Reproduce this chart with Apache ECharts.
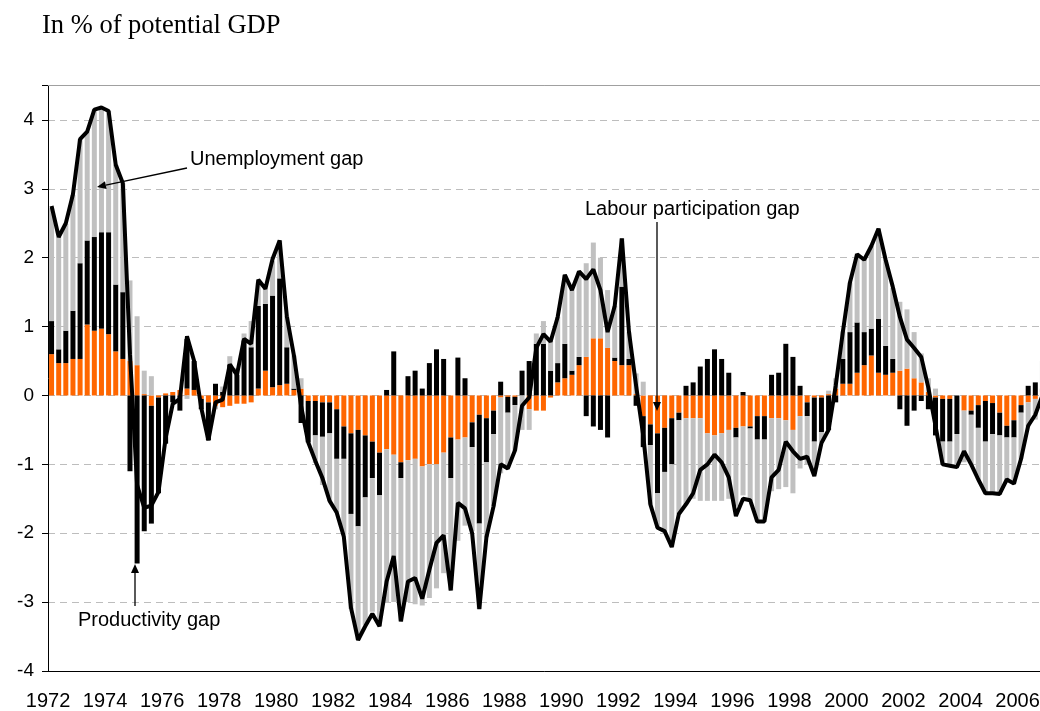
<!DOCTYPE html>
<html>
<head>
<meta charset="utf-8">
<script src="https://cdn.jsdelivr.net/npm/echarts@6/dist/echarts.min.js"></script>
<style>
  html, body { margin: 0; padding: 0; background: #fff; }
  #chart { width: 1040px; height: 711px; }
</style>
</head>
<body>
<div id="chart"></div>
<script>
// quarters 1972Q1 .. 2006Q4 (last one is cut by the frame)
const startYear = 1972;
const nQuarters = 140;
const quarters = [];
for (let i = 0; i < nQuarters; i++) {
  quarters.push((startYear + Math.floor(i / 4)) + 'Q' + (i % 4 + 1));
}

// labour participation gap (orange)
const labourGap = [
  0.60, 0.47, 0.47, 0.53, 0.53, 1.03, 0.94, 0.97, 0.89, 0.64, 0.53, 0.50,
  0.44, 0.02, -0.15, -0.03, 0.03, 0.05, 0.08, 0.10, 0.08, -0.05, -0.10, -0.15,
  -0.17, -0.15, -0.12, -0.12, -0.10, 0.10, 0.36, 0.12, 0.15, 0.17, 0.08, 0.10,
  -0.08, -0.08, -0.10, -0.10, -0.20, -0.45, -0.55, -0.50, -0.58, -0.67, -0.83, -0.78,
  -0.86, -0.97, -0.94, -0.92, -1.03, -1.00, -1.00, -0.83, -0.61, -0.64, -0.61, -0.39,
  -0.28, -0.33, -0.22, -0.03, -0.02, -0.02, 0.00, -0.20, -0.22, -0.22, -0.03, 0.19,
  0.25, 0.30, 0.44, 0.56, 0.83, 0.83, 0.69, 0.50, 0.44, 0.44, 0.02, -0.30,
  -0.42, -0.55, -0.47, -0.33, -0.25, -0.33, -0.33, -0.33, -0.55, -0.58, -0.55, -0.50,
  -0.47, -0.45, -0.45, -0.30, -0.30, -0.33, -0.33, -0.36, -0.50, -0.30, -0.10, -0.03,
  -0.03, 0.02, 0.10, 0.17, 0.17, 0.33, 0.44, 0.58, 0.33, 0.30, 0.33, 0.36,
  0.39, 0.25, 0.19, 0.05, -0.03, -0.05, -0.05, 0.00, -0.22, -0.22, -0.14, -0.08,
  -0.11, -0.25, -0.44, -0.36, -0.14, -0.10, -0.05, 0.05
];

// productivity gap (black)
const productivityGap = [
  0.48, 0.20, 0.47, 0.70, 1.39, 1.22, 1.36, 1.40, 1.48, 0.97, 0.97, -1.10,
  -2.44, -1.97, -1.71, -1.39, -0.70, -0.10, -0.22, 0.72, 0.42, -0.15, -0.55, 0.17,
  0.05, 0.45, 0.30, 0.80, 0.70, 1.20, 0.97, 1.33, 1.55, 0.53, 0.02, -0.40,
  -0.60, -0.50, -0.50, -0.45, -0.72, -0.47, -1.17, -1.40, -0.90, -0.53, -0.62, 0.08,
  0.64, -0.23, 0.28, 0.36, 0.10, 0.47, 0.67, 0.53, -0.59, 0.55, 0.25, -0.36,
  -1.58, -0.64, -0.34, 0.20, -0.23, -0.12, 0.36, 0.50, 0.75, 0.75, 0.36, 0.28,
  0.50, 0.06, 0.12, -0.30, -0.45, -0.50, -0.61, 0.05, 1.14, 0.09, -0.15, -0.45,
  -0.30, -0.87, -0.64, -0.67, -0.11, 0.14, 0.19, 0.42, 0.53, 0.67, 0.53, 0.33,
  -0.14, 0.05, -0.03, -0.34, -0.34, 0.30, 0.33, 0.75, 0.56, 0.14, -0.20, -0.64,
  -0.50, -0.50, -0.10, 0.36, 0.75, 0.73, 0.48, 0.39, 0.78, 0.42, 0.20, -0.20,
  -0.44, -0.22, -0.08, -0.20, -0.55, -0.62, -0.62, -0.56, 0.00, -0.06, -0.33, -0.59,
  -0.45, -0.33, -0.17, -0.25, -0.11, 0.14, 0.19, 0.05
];

// unemployment gap (grey)
const unemploymentGap = [
  1.64, 1.63, 1.55, 1.68, 1.80, 1.58, 1.85, 1.81, 1.76, 1.74, 1.58, 1.17,
  0.71, 0.34, 0.28, 0.00, 0.00, 0.00, 0.00, -0.05, 0.00, 0.00, 0.00, -0.05,
  0.08, 0.12, 0.10, 0.10, 0.38, 0.35, 0.22, 0.50, 0.55, 0.45, 0.48, 0.15,
  0.00, -0.40, -0.70, -0.98, -0.78, -1.10, -1.38, -1.65, -1.85, -1.94, -1.90, -2.22,
  -2.14, -2.08, -2.06, -2.11, -2.02, -1.94, -1.80, -1.75, -1.63, -1.47, -1.28, -1.22,
  -1.24, -1.09, -1.05, -1.10, -0.80, -0.66, -0.50, -0.30, 0.15, 0.33, 0.45, 0.67,
  1.00, 1.17, 1.24, 1.36, 1.39, 1.17, 0.84, 0.75, 0.70, 0.39, 0.30, 0.20,
  -0.86, -0.50, -0.86, -1.20, -1.36, -1.25, -1.17, -1.20, -0.98, -0.95, -0.98, -1.00,
  -1.00, -1.00, -1.05, -1.19, -1.16, -1.06, -1.03, -0.97, -0.92, -0.76, -0.70, -0.47,
  -0.15, 0.05, 0.15, 0.40, 0.72, 1.00, 1.05, 1.20, 1.31, 1.25, 1.03, 1.00,
  0.86, 0.67, 0.42, 0.20, 0.10, -0.33, -0.33, -0.44, -0.75, -0.72, -0.75, -0.75,
  -0.86, -0.86, -0.61, -0.67, -0.67, -0.35, -0.30, 0.40
];

// output gap (line)
const outputGap = [
  2.75, 2.30, 2.50, 2.92, 3.72, 3.83, 4.15, 4.18, 4.13, 3.35, 3.08, 0.60,
  -1.30, -1.63, -1.60, -1.40, -0.62, -0.12, -0.05, 0.86, 0.50, -0.18, -0.65, -0.10,
  -0.06, 0.45, 0.30, 0.82, 0.75, 1.68, 1.55, 1.98, 2.25, 1.15, 0.58, -0.15,
  -0.68, -0.95, -1.20, -1.53, -1.70, -2.05, -3.08, -3.55, -3.35, -3.17, -3.35, -2.70,
  -2.33, -3.28, -2.70, -2.65, -2.95, -2.53, -2.14, -2.03, -2.83, -1.56, -1.64, -2.00,
  -3.10, -2.06, -1.61, -1.00, -1.06, -0.80, -0.15, -0.03, 0.69, 0.89, 0.78, 1.14,
  1.75, 1.53, 1.80, 1.69, 1.83, 1.53, 0.92, 1.30, 2.28, 0.92, 0.14, -0.58,
  -1.58, -1.92, -1.97, -2.20, -1.72, -1.58, -1.42, -1.08, -1.00, -0.86, -0.97, -1.19,
  -1.75, -1.50, -1.52, -1.83, -1.83, -1.19, -1.08, -0.67, -0.81, -0.92, -0.89, -1.17,
  -0.69, -0.50, 0.14, 0.92, 1.64, 2.05, 1.97, 2.17, 2.42, 1.97, 1.58, 1.14,
  0.81, 0.69, 0.56, 0.11, -0.44, -1.00, -1.02, -1.04, -0.81, -1.00, -1.22, -1.42,
  -1.42, -1.43, -1.22, -1.28, -0.92, -0.44, -0.28, 0.00
];

const yTicks = [-4, -3, -2, -1, 0, 1, 2, 3, 4];

const font = 'Liberation Sans, Arial, sans-serif';

let myChart = echarts.init(document.getElementById('chart'));

// small helper for annotation arrows
function arrow(x1, y1, x2, y2) {
  const a = Math.atan2(y2 - y1, x2 - x1);
  const len = 9, w = 4;
  const bx = x2 - len * Math.cos(a), by = y2 - len * Math.sin(a);
  return [
    { type: 'line', shape: { x1: x1, y1: y1, x2: bx, y2: by },
      style: { stroke: '#000', lineWidth: 1.3 }, z: 100 },
    { type: 'polygon', z: 100,
      shape: { points: [[x2, y2],
        [bx + w * Math.sin(a), by - w * Math.cos(a)],
        [bx - w * Math.sin(a), by + w * Math.cos(a)]] },
      style: { fill: '#000' } }
  ];
}

function label(text, x, y) {
  return { type: 'text', left: x, top: y, z: 100,
    style: { text: text, font: '20px ' + font, fill: '#000' } };
}

const barBase = { type: 'bar', stack: 'gap', barWidth: 5, animation: false };

myChart.setOption({
  animation: false,
  title: {
    text: 'In % of potential GDP',
    left: 37, top: 8,
    textStyle: { fontFamily: 'Liberation Serif, Times New Roman, serif', fontSize: 26.5,
      fontWeight: 'normal', color: '#000' }
  },
  // plot runs past the right edge of the picture, like the original
  grid: { left: 48, width: 998, top: 85.5, bottom: 40, outerBoundsMode: 'none' },
  xAxis: [
    {
      type: 'category',
      data: quarters,
      boundaryGap: true,
      axisLine: { onZero: false, lineStyle: { color: '#000', width: 1 } },
      axisTick: { interval: 7, length: 8, lineStyle: { color: '#000' } },
      axisLabel: {
        interval: 7, margin: 20, color: '#000', fontSize: 20, fontFamily: font,
        padding: [0, 7, 0, 0],
        formatter: v => v.slice(0, 4)
      },
      splitLine: { show: false }
    },
    {
      // top frame line of the plot area
      type: 'category',
      data: quarters,
      position: 'top',
      axisLine: { onZero: false, lineStyle: { color: '#a0a0a0', width: 1 } },
      axisTick: { show: false },
      axisLabel: { show: false },
      splitLine: { show: false }
    }
  ],
  yAxis: {
    type: 'value',
    min: -4, max: 4.5, interval: 1,
    axisLine: { show: true, lineStyle: { color: '#000', width: 1 } },
    axisTick: { show: true, length: 6, lineStyle: { color: '#000' } },
    axisLabel: {
      margin: 14, color: '#000', fontSize: 19, fontFamily: font,
      formatter: v => (yTicks.indexOf(v) >= 0 ? String(v) : '')
    },
    splitLine: { lineStyle: { color: '#bdbdbd', type: [7, 5], width: 1 } }
  },
  series: [
    Object.assign({ name: 'Labour participation gap', data: labourGap,
      itemStyle: { color: '#ff6600' } }, barBase),
    Object.assign({ name: 'Productivity gap', data: productivityGap,
      itemStyle: { color: '#000000' } }, barBase),
    Object.assign({ name: 'Unemployment gap', data: unemploymentGap,
      itemStyle: { color: '#c0c0c0' } }, barBase),
    {
      name: 'Output gap', type: 'line', data: outputGap,
      symbol: 'none', z: 10, animation: false,
      lineStyle: { color: '#000', width: 4 }
    }
  ],
  graphic: [
    label('Unemployment gap', 190, 149),
    ...arrow(187, 168, 97, 187),
    label('Labour participation gap', 585, 199),
    ...arrow(657, 222, 657, 411),
    label('Productivity gap', 78, 610),
    ...arrow(135, 606, 135, 564)
  ]
});

window.onresize = function () {
  myChart.resize();
};
</script>
</body>
</html>
